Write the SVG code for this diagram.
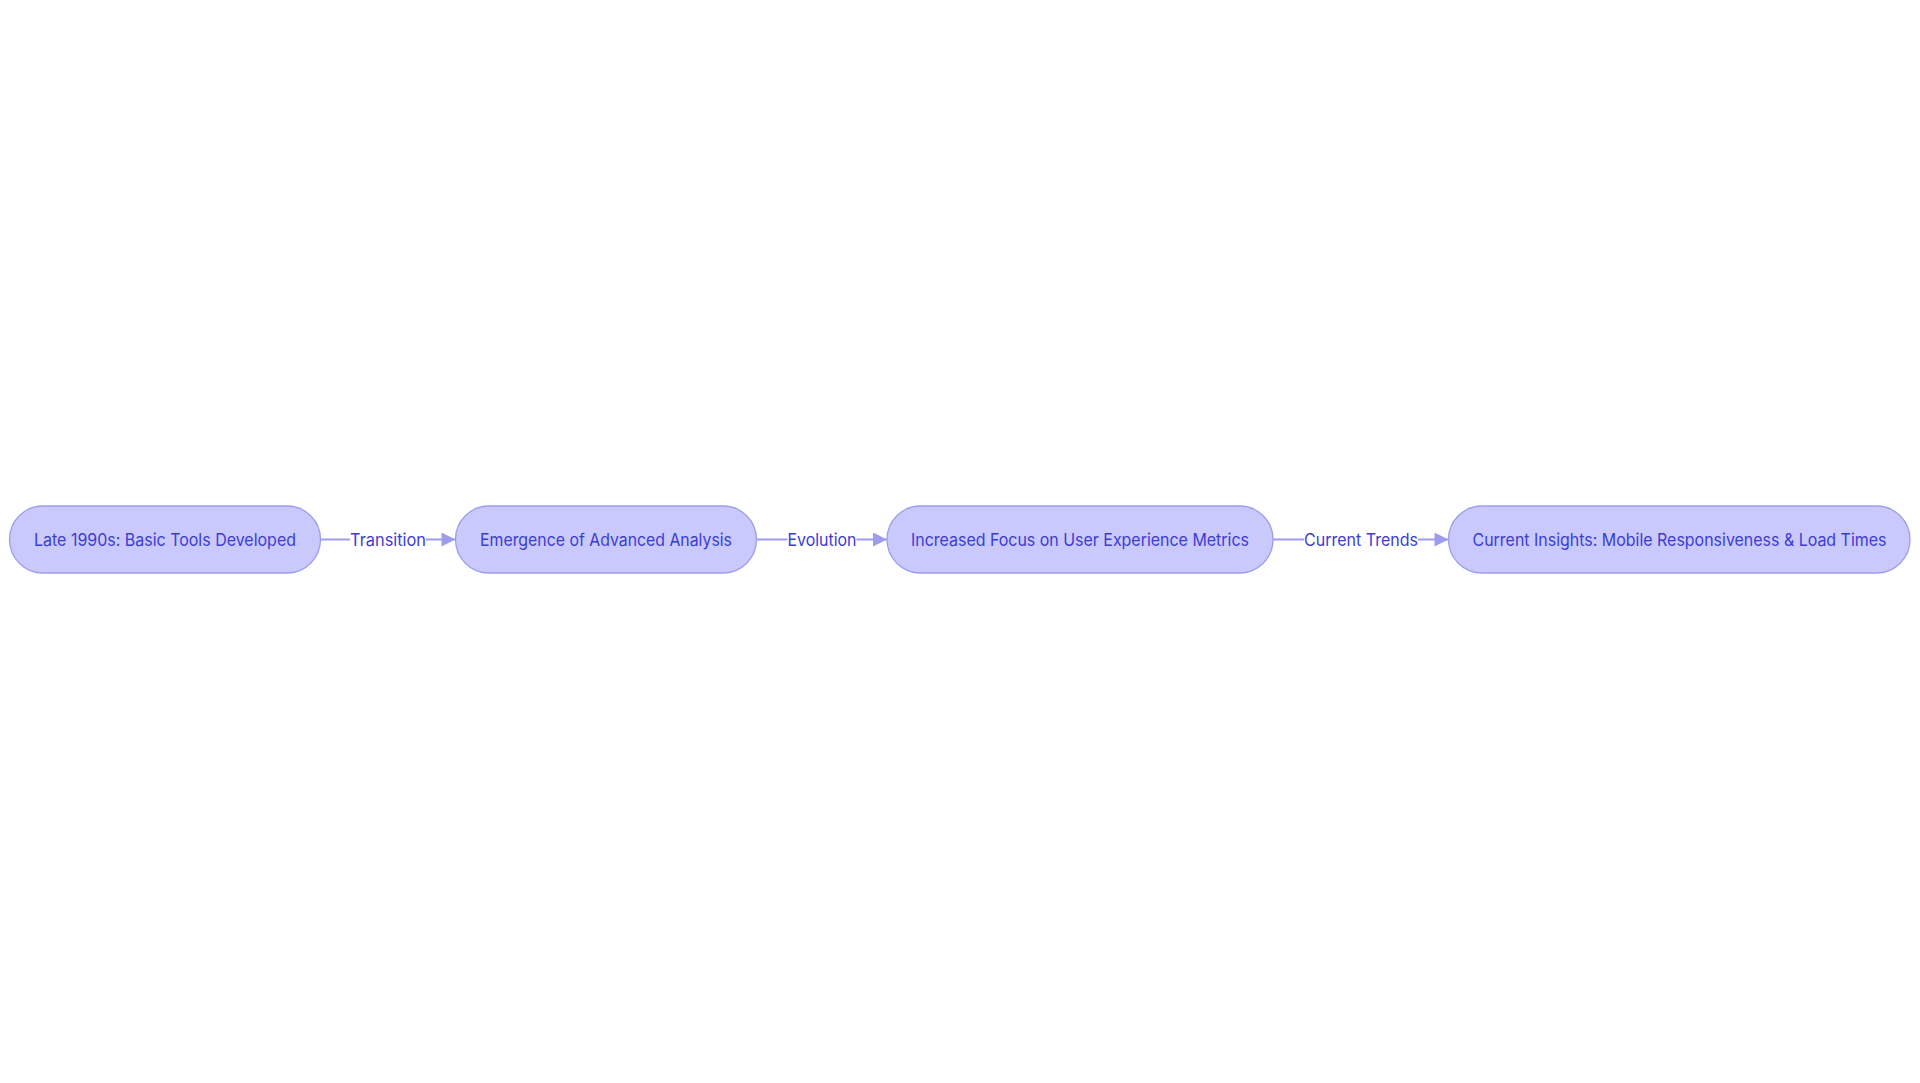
<svg xmlns="http://www.w3.org/2000/svg" width="1920" height="1083" viewBox="0 0 1920 1083">
<style>
.bg{fill:#ffffff}
.node rect{fill:#c9c9fb;stroke:#9d9df0;stroke-width:1.3}
.nl{font-family:Inter,"Noto Sans","Liberation Sans",sans-serif;font-size:17px;fill:#3c3cd2;text-anchor:middle}
.edge{stroke:#9d9df0;stroke-width:2;fill:none}
.lbg{fill:#ffffff}
.el{font-family:Inter,"Noto Sans","Liberation Sans",sans-serif;font-size:17px;fill:#3c3cd2;text-anchor:middle}
</style>
<defs>
<marker id="arr" viewBox="0 0 10 10" refX="10" refY="5" markerWidth="17" markerHeight="14" markerUnits="userSpaceOnUse" orient="auto">
<path d="M0,0 L10,5 L0,10 z" fill="#9d9df0"/>
</marker>
</defs>
<rect class="bg" x="0" y="0" width="1920" height="1083"/>
<g id="connectors">
<g id="e1"><path class="edge" d="M320.5,539.5 L455.5,539.5" marker-end="url(#arr)"/><rect class="lbg" x="350" y="529" width="76" height="21"/><text class="el" x="388" y="545.6" textLength="76" lengthAdjust="spacingAndGlyphs">Transition</text></g>
<g id="e2"><path class="edge" d="M756.5,539.5 L887,539.5" marker-end="url(#arr)"/><rect class="lbg" x="787.5" y="529" width="69" height="21"/><text class="el" x="822" y="545.6" textLength="69" lengthAdjust="spacingAndGlyphs">Evolution</text></g>
<g id="e3"><path class="edge" d="M1273,539.5 L1448.5,539.5" marker-end="url(#arr)"/><rect class="lbg" x="1304" y="529" width="114" height="21"/><text class="el" x="1361" y="545.6" textLength="114" lengthAdjust="spacingAndGlyphs">Current Trends</text></g>
</g>
<g id="n1" class="node"><rect x="9.5" y="506" width="311" height="67" rx="33.5" ry="33.5"/><text class="nl" x="165" y="545.6" textLength="262" lengthAdjust="spacingAndGlyphs">Late 1990s: Basic Tools Developed</text></g>
<g id="n2" class="node"><rect x="455.5" y="506" width="301" height="67" rx="33.5" ry="33.5"/><text class="nl" x="606" y="545.6" textLength="252" lengthAdjust="spacingAndGlyphs">Emergence of Advanced Analysis</text></g>
<g id="n3" class="node"><rect x="887" y="506" width="386" height="67" rx="33.5" ry="33.5"/><text class="nl" x="1080" y="545.6" textLength="338" lengthAdjust="spacingAndGlyphs">Increased Focus on User Experience Metrics</text></g>
<g id="n4" class="node"><rect x="1448.5" y="506" width="461.5" height="67" rx="33.5" ry="33.5"/><text class="nl" x="1679.5" y="545.6" textLength="414" lengthAdjust="spacingAndGlyphs">Current Insights: Mobile Responsiveness &amp; Load Times</text></g>
</svg>
